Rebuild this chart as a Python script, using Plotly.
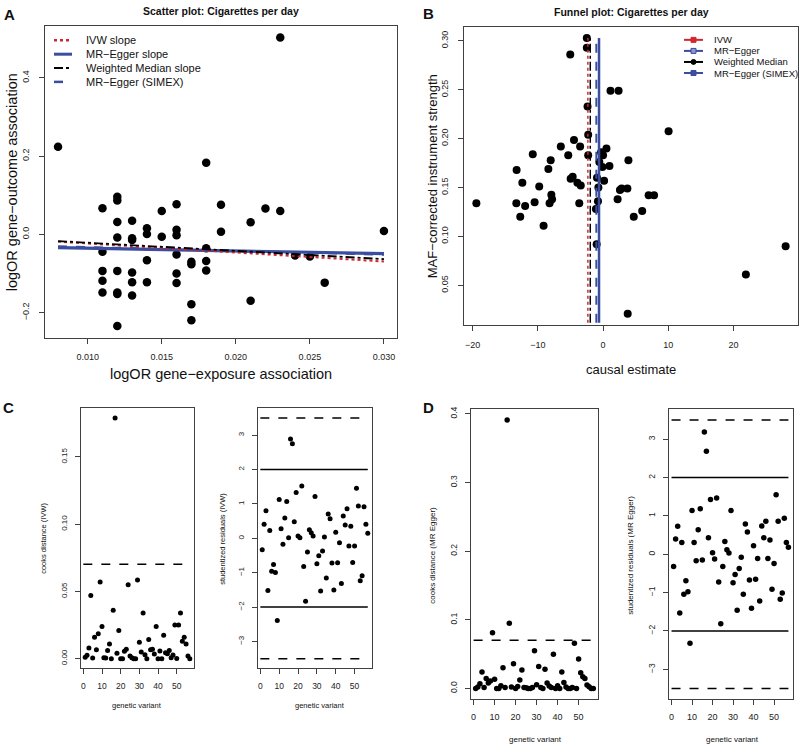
import plotly.graph_objects as go

W, H = 800, 746
FONT = "Liberation Sans, Arial, sans-serif"

# ---------------- Panel A: scatter plot ----------------
a_x = [0.008, 0.023, 0.018, 0.030, 0.011, 0.012, 0.012, 0.012, 0.012, 0.013, 0.013, 0.013,
       0.014, 0.014, 0.015, 0.015, 0.016, 0.016, 0.016, 0.019, 0.019, 0.021, 0.022, 0.023,
       0.011, 0.011, 0.011, 0.011, 0.012, 0.012, 0.012, 0.012, 0.013, 0.013, 0.013, 0.014,
       0.014, 0.016, 0.016, 0.016, 0.017, 0.017, 0.017, 0.017, 0.018, 0.018, 0.018, 0.021,
       0.024, 0.025, 0.026]
a_y = [0.224, 0.503, 0.183, 0.009, 0.067, 0.096, 0.087, 0.032, -0.008, 0.035, -0.010, -0.014,
       0.016, 0.001, 0.060, -0.006, 0.077, 0.012, -0.002, 0.076, 0.007, 0.031, 0.066, 0.060,
       -0.044, -0.093, -0.118, -0.148, -0.093, -0.148, -0.152, -0.234, -0.097, -0.122, -0.156,
       -0.066, -0.122, -0.051, -0.100, -0.124, -0.070, -0.076, -0.178, -0.219, -0.035, -0.068,
       -0.092, -0.169, -0.054, -0.056, -0.123]

# method estimates (slope, intercept)
ivw_slope, ivw_int = -2.30, 0.0
egger_slope, egger_int = -0.70, -0.028
wm_slope, wm_int = -2.10, 0.0
simex_slope, simex_int = -1.00, -0.022

# ---------------- Panel B: funnel plot ----------------
b_x = [-2.49, -2.49, -5.03, 1.14, 2.38, -2.38, -2.28, 10.05, -4.46, -6.48, -3.52, -10.78,
       -5.34, -2.28, 0.52, -0.31, 0.0, -0.57, -0.1, 0.98, 3.89, -8.03, -8.39, -13.26, -0.93,
       0.16, -4.66, -4.97, -3.94, -3.42, -12.38, -9.79, -0.72, 2.59, 2.85, 3.73, -7.93, -7.82,
       6.99, 7.82, 2.23, -19.43, -13.3, -11.95, -10.5, -8.2, -3.65, -0.78, -1.09, 6.0, 4.71,
       -12.7, -9.12, -0.98, 21.9, 28.0, 3.78]
b_y = [0.303, 0.293, 0.286, 0.249, 0.249, 0.233, 0.204, 0.2075, 0.1986, 0.192, 0.192, 0.184,
       0.183, 0.183, 0.190, 0.186, 0.183, 0.176, 0.171, 0.172, 0.178, 0.178, 0.169, 0.168,
       0.160, 0.157, 0.161, 0.159, 0.155, 0.152, 0.155, 0.151, 0.150, 0.1476, 0.149, 0.149,
       0.1425, 0.138, 0.142, 0.142, 0.138, 0.134, 0.134, 0.131, 0.135, 0.134, 0.134, 0.136,
       0.128, 0.126, 0.120, 0.120, 0.111, 0.092, 0.061, 0.090, 0.021]
ivw_est = -2.33
egger_est = -0.62
wm_est = -1.96
simex_est = -1.03

# ---------------- Panels C / D ----------------
cooks_ivw = [0.001, 0.0025, 0.008, 0.047, 0.0005, 0.016, 0.0066, 0.0185, 0.057, 0.024, 0.0007,
             0.0005, 0.006, 0.011, 0.0, 0.036, 0.179, 0.004, 0.021, 0.0, 0.0, 0.0055, 0.007,
             0.055, 0.002, 0.0007, 0.0, 0.0, 0.0586, 0.0123, 0.005, 0.034, 0.003, 0.0, 0.0143,
             0.0066, 0.007, 0.0035, 0.024, 0.0, 0.0057, 0.0, 0.0175, 0.0044, 0.0037, 0.006,
             0.0007, 0.0027, 0.025, 0.0002, 0.025, 0.034, 0.013, 0.016, 0.011, 0.002, 0.0]
stud_ivw = [-0.33, 0.41, 0.80, -1.52, 0.23, -0.96, -0.76, -0.99, -2.39, 1.13, 0.28, -0.17,
            0.59, 1.07, 0.02, 2.89, 2.75, 0.48, 1.33, 0.07, 0.02, 1.52, -0.82, -1.83, -0.40,
            0.25, 0.16, 0.07, 1.22, -0.74, -0.51, -1.53, -0.37, 0.04, -1.15, 0.71, 0.57, -0.72,
            -1.50, 0.18, -0.71, -0.13, -1.31, 0.65, 0.39, 0.86, -0.22, 0.35, -0.70, -0.22, 1.46,
            0.94, -1.23, -1.09, 0.92, 0.41, 0.15]
cooks_egger = [0.0, 0.002, 0.007, 0.024, 0.0015, 0.0145, 0.008, 0.011, 0.081, 0.0135, 0.0, 0.0,
               0.004, 0.030, 0.0015, 0.391, 0.095, 0.002, 0.036, 0.0, 0.003, 0.0125, 0.027,
               0.0015, 0.001, 0.0, 0.0, 0.0015, 0.055, 0.0055, 0.032, 0.0015, 0.0, 0.028, 0.008,
               0.0035, 0.0015, 0.050, 0.0, 0.004, 0.0, 0.024, 0.0087, 0.002, 0.0, 0.0, 0.0015,
               0.066, 0.0, 0.043, 0.023, 0.017, 0.0145, 0.005, 0.0025, 0.0, 0.0]
stud_egger = [-0.32, 0.40, 0.73, -1.53, 0.31, -1.04, -0.69, -0.98, -2.32, 1.14, 0.31, -0.17,
              0.64, 1.19, -0.15, 3.19, 2.69, 0.43, 1.43, 0.04, -0.12, 1.47, -0.72, -1.81, -0.32,
              0.33, 0.12, 0.03, 1.14, -0.74, -0.53, -1.46, -0.37, -0.08, -1.04, 0.79, 0.58,
              -0.67, -1.41, 0.22, -0.65, -0.11, -1.22, 0.74, 0.43, 0.86, -0.11, 0.37, -0.91,
              -0.24, 1.55, 0.86, -1.17, -1.01, 0.94, 0.31, 0.18]
variant = list(range(1, len(cooks_ivw) + 1))
cooks_cut = 4 / len(cooks_ivw)
stud_cut = [2, 3.5]

RED = "#d2262e"
BLUE = "#3a4d9f"
BLK = "#000000"


def rlim(vals):
    lo, hi = min(vals), max(vals)
    d = (hi - lo) * 0.04
    return [lo - d, hi + d]


def xd(p0, p1):
    return [p0 / W, p1 / W]


def yd(p0, p1):  # p0 top px, p1 bottom px
    return [1 - p1 / H, 1 - p0 / H]


def axstyle(dom, rng, tickvals, fmt, fs, angle=0, standoff=4):
    return dict(domain=dom, range=rng, tickvals=tickvals, tickformat=fmt,
                showline=True, mirror=True, linecolor="#404040", linewidth=1,
                ticks="outside", ticklen=5, tickcolor="#404040", tickwidth=1,
                showgrid=False, zeroline=False, tickangle=angle,
                ticklabelstandoff=standoff,
                tickfont=dict(size=fs, color="#222", family=FONT))


fig = go.Figure()

# ---- A ----
fig.add_trace(go.Scatter(x=a_x, y=a_y, mode="markers", xaxis="x", yaxis="y",
                         marker=dict(size=8.5, color=BLK), showlegend=False))
xs = [min(a_x), max(a_x)]
for s, i, col, dash, wdt in [(egger_slope, egger_int, BLUE, "solid", 3.2),
                             (simex_slope, simex_int, BLUE, "dash", 2),
                             (ivw_slope, ivw_int, RED, "dot", 2),
                             (wm_slope, wm_int, BLK, "dashdot", 1.8)]:
    fig.add_trace(go.Scatter(x=xs, y=[i + s * v for v in xs], mode="lines", xaxis="x", yaxis="y",
                             line=dict(color=col, dash=dash, width=wdt), showlegend=False))

# ---- B ----
fig.add_trace(go.Scatter(x=b_x, y=b_y, mode="markers", xaxis="x2", yaxis="y2",
                         marker=dict(size=8, color=BLK), showlegend=False))
b_ylim = rlim(b_y)
vy = [b_ylim[0] + 0.002, max(b_y)]
for est, col, dash, wdt in [(ivw_est, RED, "dot", 1.5), (wm_est, BLK, "dashdot", 1.5),
                            (simex_est, BLUE, "dash", 2), (egger_est, BLUE, "solid", 2.5)]:
    fig.add_trace(go.Scatter(x=[est, est], y=vy, mode="lines", xaxis="x2", yaxis="y2",
                             line=dict(color=col, dash=dash, width=wdt), showlegend=False))

# ---- C / D ----
ns = [0, len(variant)]
for vals, ax, ay, ms in [(cooks_ivw, "x3", "y3", 5), (stud_ivw, "x4", "y4", 5),
                         (cooks_egger, "x5", "y5", 5.5), (stud_egger, "x6", "y6", 5.5)]:
    fig.add_trace(go.Scatter(x=variant, y=vals, mode="markers", xaxis=ax, yaxis=ay,
                             marker=dict(size=ms, color=BLK), showlegend=False))
for ax, ay in [("x3", "y3"), ("x5", "y5")]:
    fig.add_trace(go.Scatter(x=ns, y=[cooks_cut] * 2, mode="lines", xaxis=ax, yaxis=ay,
                             line=dict(color=BLK, dash="dash", width=1.5), showlegend=False))
for ax, ay in [("x4", "y4"), ("x6", "y6")]:
    for sgn in (1, -1):
        fig.add_trace(go.Scatter(x=ns, y=[sgn * stud_cut[0]] * 2, mode="lines", xaxis=ax, yaxis=ay,
                                 line=dict(color=BLK, width=1.5), showlegend=False))
        fig.add_trace(go.Scatter(x=ns, y=[sgn * stud_cut[1]] * 2, mode="lines", xaxis=ax, yaxis=ay,
                                 line=dict(color=BLK, dash="dash", width=1.5), showlegend=False))

vx = rlim(variant)
stud_lim = rlim([-stud_cut[1], stud_cut[1]])

layout = dict(
    width=W, height=H, margin=dict(l=0, r=0, t=0, b=0),
    paper_bgcolor="white", plot_bgcolor="white", showlegend=False,
    font=dict(family=FONT, color="#111"),
    xaxis=axstyle(xd(45, 397), rlim(a_x), [0.010, 0.015, 0.020, 0.025, 0.030], ".3f", 9, standoff=6),
    yaxis=axstyle(yd(23, 336), rlim(a_y), [-0.2, 0.0, 0.2, 0.4], ".1f", 9, -90, 6),
    xaxis2=axstyle(xd(464, 798), rlim(b_x), [-20, -10, 0, 10, 20], "d", 9, standoff=6),
    yaxis2=axstyle(yd(24, 323), b_ylim, [0.05, 0.10, 0.15, 0.20, 0.25, 0.30], ".2f", 9, -90, 6),
    xaxis3=axstyle(xd(81, 194), vx, [0, 10, 20, 30, 40, 50], "d", 8.5, standoff=4),
    yaxis3=axstyle(yd(407, 668), rlim(cooks_ivw), [0.0, 0.05, 0.10, 0.15], ".2f", 8, -90, 5),
    xaxis4=axstyle(xd(258, 372), vx, [0, 10, 20, 30, 40, 50], "d", 8.5, standoff=4),
    yaxis4=axstyle(yd(407, 668), stud_lim, [-3, -2, -1, 0, 1, 2, 3], "d", 8, -90, 5),
    xaxis5=axstyle(xd(471, 598), vx, [0, 10, 20, 30, 40, 50], "d", 9, standoff=4),
    yaxis5=axstyle(yd(408, 699), rlim(cooks_egger), [0.0, 0.1, 0.2, 0.3, 0.4], ".1f", 8.5, -90, 5),
    xaxis6=axstyle(xd(669, 793), vx, [0, 10, 20, 30, 40, 50], "d", 9, standoff=4),
    yaxis6=axstyle(yd(408, 699), stud_lim, [-3, -2, -1, 0, 1, 2, 3], "d", 8.5, -90, 5),
)
for i in range(1, 7):
    sfx = "" if i == 1 else str(i)
    layout["xaxis" + sfx]["anchor"] = "y" + sfx
    layout["yaxis" + sfx]["anchor"] = "x" + sfx
fig.update_layout(**layout)

ann = []


def text(px, py, s, size, bold=False, angle=0, xanchor="center", color="#111"):
    ann.append(dict(x=px / W, y=1 - py / H, xref="paper", yref="paper", text=("<b>%s</b>" % s) if bold else s,
                    showarrow=False, textangle=angle, xanchor=xanchor, yanchor="middle",
                    font=dict(size=size, family=FONT, color=color)))


# panel letters & titles
text(9, 12, "A", 15, True)
text(428, 11, "B", 15, True)
text(8, 406, "C", 15, True)
text(428, 406, "D", 15, True)
text(221, 8, "Scatter plot: Cigarettes per day", 10.5, True)
text(631, 9, "Funnel plot: Cigarettes per day", 10.5, True)

# axis titles
text(221, 372, "logOR gene−exposure association", 14.5)
text(12, 180, "logOR gene−outcome association", 14.5, angle=-90)
text(631, 368, "causal estimate", 13)
text(432, 174, "MAF−corrected instrument strength", 13, angle=-90)
text(137, 705, "genetic variant", 7.5)
text(44, 538, "cooks distance (IVW)", 7.5, angle=-90)
text(320, 705, "genetic variant", 7.5)
text(223, 538, "studentized residuals (IVW)", 7.5, angle=-90)
text(535, 739, "genetic variant", 8)
text(433, 555, "cooks distance (MR Egger)", 8, angle=-90)
text(732, 739, "genetic variant", 8)
text(631, 555, "studentized residuals (MR Egger)", 8, angle=-90)

# legend A
shapes = []
legA = [("IVW slope", RED, "dot", 2.5), ("MR−Egger slope", BLUE, "solid", 3),
        ("Weighted Median slope", BLK, "dashdot", 2), ("MR−Egger (SIMEX)", BLUE, "dash", 2.5)]
for k, (lab, col, dash, wdt) in enumerate(legA):
    py = 37.5 + k * 13.9
    shapes.append(dict(type="line", xref="paper", yref="paper", x0=54 / W, x1=72 / W,
                       y0=1 - py / H, y1=1 - py / H, line=dict(color=col, dash=dash, width=wdt)))
    text(84, py, lab, 11, xanchor="left")

# legend B
legB = [("IVW", RED, "square", RED), ("MR−Egger", BLUE, "square", "#8c97c8"),
        ("Weighted Median", BLK, "circle", BLK), ("MR−Egger (SIMEX)", BLUE, "square", BLUE)]
for k, (lab, col, sym, fill) in enumerate(legB):
    py = 37 + k * 11.1
    shapes.append(dict(type="line", xref="paper", yref="paper", x0=684 / W, x1=703 / W,
                       y0=1 - py / H, y1=1 - py / H, line=dict(color=col, width=2)))
    shapes.append(dict(type="rect" if sym == "square" else "circle", xref="paper", yref="paper",
                       x0=(693.5 - 2.5) / W, x1=(693.5 + 2.5) / W,
                       y0=1 - (py + 2.5) / H, y1=1 - (py - 2.5) / H,
                       line=dict(color=col, width=1), fillcolor=fill))
    text(711.5, py, lab, 9.5, xanchor="left")

fig.update_layout(annotations=ann, shapes=shapes)
fig.write_html("out.html", config={"displayModeBar": False},
               post_script="document.body.style.margin='0';document.body.style.overflow='hidden';")
